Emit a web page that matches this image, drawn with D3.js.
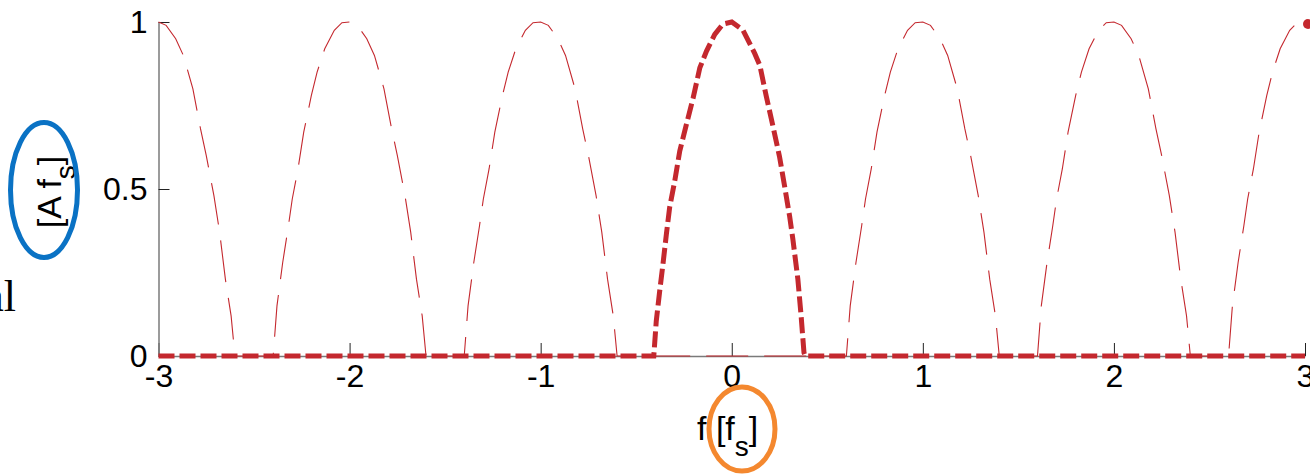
<!DOCTYPE html>
<html>
<head>
<meta charset="utf-8">
<script src="https://cdn.jsdelivr.net/npm/d3@7/dist/d3.min.js"></script>
<style>
  html, body { margin: 0; padding: 0; background: #fff; }
  svg { display: block; }
  text { font-family: "Liberation Sans", Arial, Helvetica, sans-serif; fill: #000; }
</style>
</head>
<body>
<svg id="chart" width="1310" height="474"></svg>
<script>
// Axis ticks
const xTicks = [-3, -2, -1, 0, 1, 2, 3];
const yTicks = [0, 0.5, 1];

// Spectral images (replicas of the baseband lobe) at multiples of fs
const imageCenters = [-3, -2, -1, 1, 2, 3];
// Shape of one replica: offset from its centre [fs] and amplitude [A fs]
const lobeOffsets = [-0.40, -0.38, -0.35, -0.32, -0.30, -0.27, -0.24, -0.20, -0.17, -0.13, -0.08, -0.04, 0,
                      0.04, 0.09, 0.13, 0.18, 0.22, 0.25, 0.29, 0.32, 0.35, 0.38, 0.40];
const lobeValues  = [0, 0.15, 0.28, 0.39, 0.47, 0.56, 0.67, 0.78, 0.85, 0.92, 0.975, 0.998, 1,
                     0.99, 0.95, 0.90, 0.80, 0.68, 0.60, 0.48, 0.37, 0.23, 0.12, 0];

// Baseband spectrum (thick dashed curve)
const baseFreq   = [-3, -0.408, -0.395, -0.377, -0.36, -0.342, -0.325, -0.298, -0.272, -0.237, -0.202, -0.167, -0.132, -0.089, -0.046, 0,
                    0.058, 0.12, 0.147, 0.181, 0.216, 0.25, 0.277, 0.303, 0.32, 0.346, 0.363, 0.378, 0.385, 3];
const baseValues = [0, 0, 0.105, 0.195, 0.275, 0.365, 0.445, 0.525, 0.614, 0.694, 0.773, 0.863, 0.913, 0.963, 0.994, 1,
                    0.976, 0.906, 0.87, 0.777, 0.687, 0.597, 0.507, 0.418, 0.349, 0.23, 0.12, 0.01, 0, 0];

// Marker at the right edge of the baseband trace
const edgeFreq = [3];
const edgeValue = [1];

const red = "#c4282e";

const svg = d3.select("#chart");
const x = d3.scaleLinear().domain([-3, 3]).range([158.5, 1305]);
const y = d3.scaleLinear().domain([0, 1]).range([356, 22]);

// Build the images trace: replicas joined by zero between them
const imagePts = [];
imageCenters.forEach((c) => {
  lobeOffsets.forEach((o, i) => {
    const f = c + o;
    if (f >= -3 && f <= 3) imagePts.push([f, lobeValues[i]]);
  });
});
const basePts = baseFreq.map((f, i) => [f, baseValues[i]]);

const line = d3.line().x(d => x(d[0])).y(d => y(d[1]));

// Axes
const gx = svg.append("g").attr("transform", `translate(0,${y(0)})`)
  .call(d3.axisBottom(x).tickValues(xTicks).tickSizeInner(-13).tickSizeOuter(0).tickPadding(8)
        .tickFormat(d => d3.format("d")(d).replace("\u2212", "-")));
const gy = svg.append("g").attr("transform", `translate(${x(-3)},0)`)
  .call(d3.axisLeft(y).tickValues(yTicks).tickSizeInner(-11).tickSizeOuter(0).tickPadding(11)
        .tickFormat(d => d === 0.5 ? "0.5" : d3.format("d")(d)));

[gx, gy].forEach(g => {
  g.select(".domain").attr("stroke", "#7a7a7a").attr("stroke-width", 1.5);
  g.selectAll(".tick line").attr("stroke", "#222").attr("stroke-width", 1);
  g.selectAll(".tick text").attr("font-size", 32).attr("fill", "#000");
});

// Images (thin dashed)
svg.append("path").datum(imagePts)
  .attr("d", line)
  .attr("fill", "none")
  .attr("stroke", red)
  .attr("stroke-width", 1.1)
  .attr("stroke-dasharray", "42,16");

// Baseband (thick dashed)
svg.append("path").datum(basePts)
  .attr("d", line)
  .attr("fill", "none")
  .attr("stroke", red)
  .attr("stroke-width", 5)
  .attr("stroke-dasharray", "16,5");

svg.selectAll("circle.edge").data(edgeFreq).enter().append("circle")
  .attr("class", "edge")
  .attr("cx", d => x(d) + 3)
  .attr("cy", (d, i) => y(edgeValue[i]) + 2)
  .attr("r", 5)
  .attr("fill", red);

// Axis labels
const xl = svg.append("text").attr("x", 697).attr("y", 440).attr("font-size", 34);
xl.append("tspan").text("f [f");
xl.append("tspan").attr("font-size", 28).attr("dy", 16).text("s");
xl.append("tspan").attr("dy", -16).text("]");

const yl = svg.append("text")
  .attr("transform", "translate(61,192) rotate(-90)")
  .attr("text-anchor", "middle").attr("font-size", 34);
yl.append("tspan").text("[A f");
yl.append("tspan").attr("font-size", 28).attr("dy", 14).text("s");
yl.append("tspan").attr("dy", -14).text("]");

// Fragment of a neighbouring label at the left margin
svg.append("text").attr("x", 16).attr("y", 311)
  .attr("text-anchor", "end")
  .style("font-family", "'Liberation Serif', 'Times New Roman', serif")
  .attr("font-size", 44).text("al");

// Highlight rings around the units
svg.append("ellipse").attr("cx", 44).attr("cy", 190).attr("rx", 33.5).attr("ry", 67.5)
  .attr("fill", "none").attr("stroke", "#0a72c4").attr("stroke-width", 5);
svg.append("ellipse").attr("cx", 742).attr("cy", 429).attr("rx", 33).attr("ry", 42)
  .attr("fill", "none").attr("stroke", "#f4882f").attr("stroke-width", 5);
</script>
</body>
</html>
